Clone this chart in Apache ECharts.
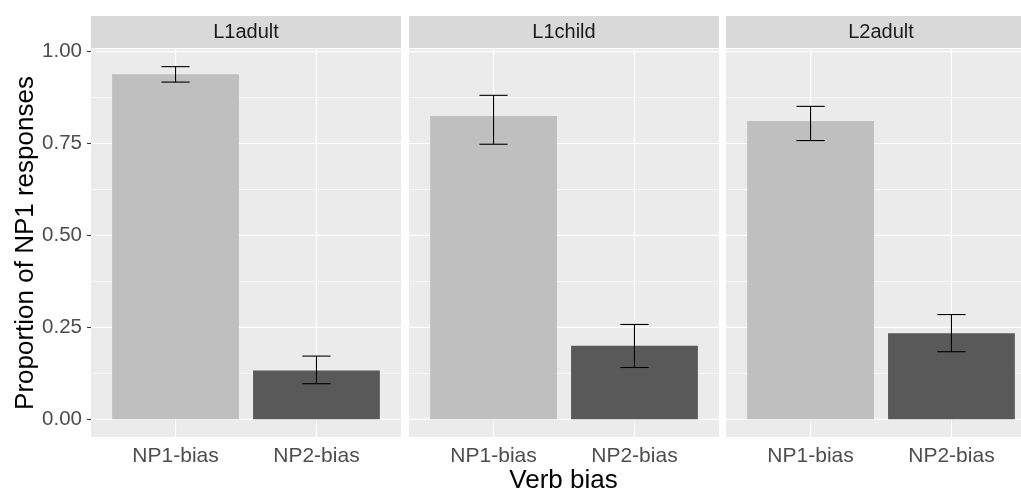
<!DOCTYPE html>
<html>
<head>
<meta charset="utf-8">
<script src="https://cdn.jsdelivr.net/npm/echarts@6/dist/echarts.min.js"></script>
<style>
  html, body { margin: 0; padding: 0; background: #ffffff; }
  #chart { width: 1021px; height: 490px; }
</style>
</head>
<body>
<div id="chart"></div>
<script>
// Facets, categories and summary values (mean with error-bar limits)
const groups = ['L1adult', 'L1child', 'L2adult'];
const biasLevels = ['NP1-bias', 'NP2-bias'];
const meanNP1 = [0.938, 0.825, 0.811];
const lowerNP1 = [0.917, 0.748, 0.758];
const upperNP1 = [0.959, 0.881, 0.851];
const meanNP2 = [0.133, 0.200, 0.234];
const lowerNP2 = [0.097, 0.141, 0.184];
const upperNP2 = [0.172, 0.258, 0.285];
const yTicks = [0, 0.25, 0.5, 0.75, 1];
const yMinorTicks = [0.125, 0.375, 0.625, 0.875];

const FONT = '"Liberation Sans", Arial, sans-serif';
const barFill = ['#bfbfbf', '#595959'];

// Continuous y range with 5% padding on both ends
const yHi = Math.max(...upperNP1, ...upperNP2);
const yMin = -0.05 * yHi;
const yMax = yHi * 1.05;

// Panel geometry (the last panel runs past the right edge of the canvas)
const CANVAS_W = 1021;
const panelLeft = [91, 409, 726];
const panelWidth = 310;
const panelTop = 49;
const panelHeight = 388;
const stripTop = 16;
const stripHeight = 32;

const grids = [], xAxes = [], yAxes = [], series = [], graphics = [];

groups.forEach((g, i) => {
  grids.push({
    left: panelLeft[i], top: panelTop,
    right: CANVAS_W - panelLeft[i] - panelWidth,
    bottom: 490 - panelTop - panelHeight,
    containLabel: false,
    outerBoundsMode: 'none',
    show: true, backgroundColor: '#ebebeb', borderWidth: 0
  });
  xAxes.push({
    gridIndex: i, type: 'value', min: 0.4, max: 2.6,
    axisLine: { show: false },
    splitLine: { show: false },
    axisTick: { show: true, customValues: [1, 2], length: 4, lineStyle: { color: '#333333', width: 1.07 } },
    axisLabel: {
      show: true, customValues: [1, 2], margin: 9,
      color: '#4d4d4d', fontFamily: FONT, fontSize: 21,
      formatter: v => biasLevels[Math.round(v) - 1]
    }
  });
  yAxes.push({
    gridIndex: i, type: 'value', min: yMin, max: yMax,
    axisLine: { show: false },
    splitLine: { show: false },
    axisTick: { show: i === 0, customValues: yTicks, length: 4, lineStyle: { color: '#333333', width: 1.07 } },
    axisLabel: {
      show: i === 0, customValues: yTicks, margin: 9,
      color: '#4d4d4d', fontFamily: FONT, fontSize: 20.5,
      formatter: v => v.toFixed(2)
    }
  });

  // Horizontal grid lines (major and minor)
  const hLines = yTicks.map(v => [v, 1]).concat(yMinorTicks.map(v => [v, 0]));
  series.push({
    type: 'custom', xAxisIndex: i, yAxisIndex: i, z: 1, silent: true,
    data: hLines,
    renderItem: (params, api) => {
      const cs = params.coordSys;
      const y = api.coord([1, api.value(0)])[1];
      const major = api.value(1) === 1;
      return {
        type: 'line',
        shape: { x1: cs.x, y1: y, x2: cs.x + cs.width, y2: y },
        style: { stroke: '#ffffff', lineWidth: major ? 1.2 : 0.6 }
      };
    }
  });

  // Bars with error bars, one item per verb-bias level
  const items = [
    [1, meanNP1[i], lowerNP1[i], upperNP1[i]],
    [2, meanNP2[i], lowerNP2[i], upperNP2[i]]
  ];
  series.push({
    type: 'custom', xAxisIndex: i, yAxisIndex: i, z: 2, silent: true,
    data: items,
    renderItem: (params, api) => {
      const cs = params.coordSys;
      const x = api.value(0), m = api.value(1), lo = api.value(2), hi = api.value(3);
      const cx = api.coord([x, 0])[0];
      const tl = api.coord([x - 0.45, m]);
      const br = api.coord([x + 0.45, 0]);
      const wl = api.coord([x - 0.1, hi]);
      const wr = api.coord([x + 0.1, lo]);
      const eb = { stroke: '#000000', lineWidth: 1.1 };
      return {
        type: 'group',
        children: [
          { type: 'line', shape: { x1: cx, y1: cs.y, x2: cx, y2: cs.y + cs.height },
            style: { stroke: '#ffffff', lineWidth: 1.2 } },
          { type: 'rect', shape: { x: tl[0], y: tl[1], width: br[0] - tl[0], height: br[1] - tl[1] },
            style: { fill: barFill[x - 1] } },
          { type: 'line', shape: { x1: cx, y1: wl[1], x2: cx, y2: wr[1] }, style: eb },
          { type: 'line', shape: { x1: wl[0], y1: wl[1], x2: wr[0], y2: wl[1] }, style: eb },
          { type: 'line', shape: { x1: wl[0], y1: wr[1], x2: wr[0], y2: wr[1] }, style: eb }
        ]
      };
    }
  });

  // Facet strip
  graphics.push({
    type: 'rect', left: panelLeft[i], top: stripTop,
    shape: { width: panelWidth, height: stripHeight },
    style: { fill: '#d9d9d9' }
  });
  graphics.push({
    type: 'text', x: panelLeft[i] + panelWidth / 2, y: stripTop + stripHeight / 2,
    style: { text: g, fill: '#1a1a1a', font: '20px ' + FONT, textAlign: 'center', textVerticalAlign: 'middle' }
  });
});

// Axis titles
graphics.push({
  type: 'text', x: (panelLeft[0] + panelLeft[2] + panelWidth) / 2, y: 481,
  style: { text: 'Verb bias', fill: '#000000', font: '26px ' + FONT, textAlign: 'center', textVerticalAlign: 'middle' }
});
graphics.push({
  type: 'text', x: 26, y: panelTop + panelHeight / 2, rotation: Math.PI / 2,
  style: { text: 'Proportion of NP1 responses', fill: '#000000', font: '26px ' + FONT, textAlign: 'center', textVerticalAlign: 'middle' }
});

const chart = echarts.init(document.getElementById('chart'), null, { renderer: 'canvas' });
chart.setOption({
  animation: false,
  backgroundColor: '#ffffff',
  grid: grids,
  xAxis: xAxes,
  yAxis: yAxes,
  series: series,
  graphic: graphics
});
</script>
</body>
</html>
